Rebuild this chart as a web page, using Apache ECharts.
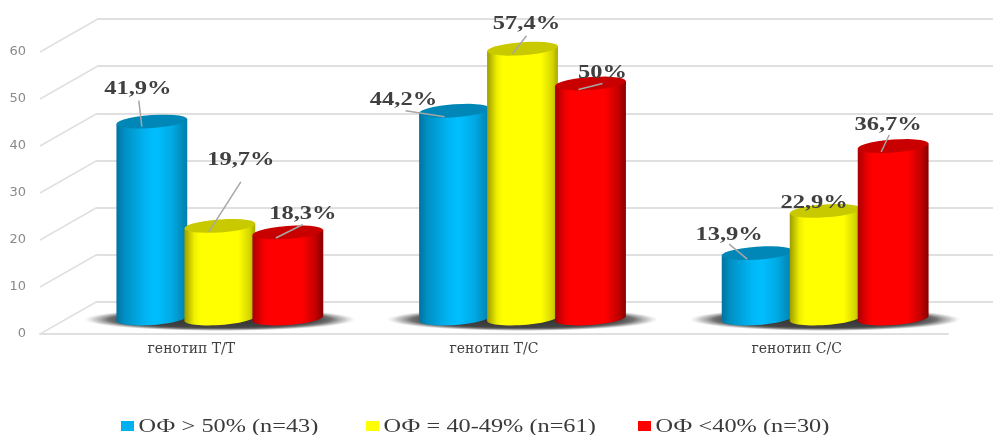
<!DOCTYPE html>
<html>
<head>
<meta charset="utf-8">
<style>html,body{margin:0;padding:0;background:#fff}#chart{width:993px;height:435px}</style>
<script src="https://cdn.jsdelivr.net/npm/echarts@6/dist/echarts.min.js"></script>
</head>
<body>
<div id="chart"></div>
<script>
// Genotype distribution by ejection fraction group, drawn as 3D-looking cylinders.
const categories = ['генотип Т/Т', 'генотип Т/С', 'генотип С/С'];
const groupNames = ['ОФ > 50% (n=43)', 'ОФ = 40-49% (n=61)', 'ОФ <40% (n=30)'];
const efAbove50 = [41.9, 44.2, 13.9];
const ef40to49 = [19.7, 57.4, 22.9];
const efBelow40 = [18.3, 50, 36.7];
const axisTicks = [0, 10, 20, 30, 40, 50, 60];

// Appearance of each group: shaded side stops, darker cap, legend swatch.
const looks = [
  {
    side: [[0, '#00749f'], [0.12, '#0090c4'], [0.42, '#00b6f4'], [0.56, '#00bfff'], [0.78, '#00aae4'], [1, '#007eaa']],
    cap: '#0087b8', swatch: '#00b0f0'
  },
  {
    side: [[0, '#9c9c00'], [0.14, '#f0f000'], [0.22, '#ffff00'], [0.76, '#ffff00'], [0.92, '#d6d600'], [1, '#a8a800']],
    cap: '#c9c900', swatch: '#ffff00'
  },
  {
    side: [[0, '#a80000'], [0.14, '#ee0000'], [0.22, '#ff0000'], [0.7, '#ff0000'], [0.9, '#c00000'], [1, '#860000']],
    cap: '#c80000', swatch: '#ff0000'
  }
];
const groups = [efAbove50, ef40to49, efBelow40];

// Perspective of the floor: the wall sits this far behind the front plane.
const WALL_DX = 57, WALL_DY = -32.5;
// Cylinders stand halfway between front plane and wall.
const MID_DX = 28.5, MID_DY = -15.5;
const BAR_STEP = 68, BAR_RX = 35.5, BAR_RY = 6.5, TILT = 0.07;

// Label placement around each cap: text offset, then leader line from/to.
const calloutLayout = [
  [[-14, -32, -13, -21, -10, 5], [21, -66, 21, -44, -11, 6], [15, -18, 15, -8, -12, 5.5]],
  [[-51, -10, -49, 0, -10, 6], [4, -24, 4, -13, -10, 5], [12, -10, 12, 0, -12, 6]],
  [[-28, -18, -28, -9, -10, 6], [-11, -8], [-5, -21, -4, -11, -12, 6]]
];

function arc(cx, cy, from, to) {
  const pts = [];
  const n = 28;
  for (let i = 0; i <= n; i++) {
    const t = from + (to - from) * i / n;
    pts.push([
      cx + BAR_RX * Math.cos(t) * Math.cos(TILT) + BAR_RY * Math.sin(t) * Math.sin(TILT),
      cy - BAR_RX * Math.cos(t) * Math.sin(TILT) + BAR_RY * Math.sin(t) * Math.cos(TILT)
    ]);
  }
  return pts;
}

function cylinderSeries(name, values, index) {
  const look = looks[index];
  return {
    name, type: 'custom', xAxisIndex: 0, yAxisIndex: 0, z: 3 + index, clip: false,
    data: values.map((v, i) => [i, v]),
    renderItem(params, api) {
      const base = api.coord([api.value(0), 0]);
      const top = api.coord([api.value(0), api.value(1)]);
      const cx = base[0] + MID_DX + (index - 1) * BAR_STEP;
      const baseY = base[1] + MID_DY;
      const topY = top[1] + MID_DY;
      const side = arc(cx, baseY, 0, Math.PI).concat(arc(cx, topY, Math.PI, Math.PI), arc(cx, topY, 0, 0));
      return {
        type: 'group',
        children: [
          {
            type: 'polygon', shape: { points: side },
            style: {
              fill: new echarts.graphic.LinearGradient(0, 0, 1, 0,
                look.side.map(s => ({ offset: s[0], color: s[1] })))
            }
          },
          { type: 'polygon', shape: { points: arc(cx, topY, 0, Math.PI * 2) }, style: { fill: look.cap } }
        ]
      };
    }
  };
}

const wallEdges = {
  type: 'custom', xAxisIndex: 0, yAxisIndex: 0, z: 1, clip: false, silent: true,
  data: axisTicks.map(t => [0, t]),
  renderItem(params, api) {
    const p = api.coord([0, api.value(1)]);
    const x = params.coordSys.x;
    return {
      type: 'line',
      shape: { x1: x, y1: p[1], x2: x + WALL_DX, y2: p[1] + WALL_DY },
      style: { stroke: '#e0e0e0', lineWidth: 1.5 }
    };
  }
};

const floorShadows = {
  type: 'custom', xAxisIndex: 0, yAxisIndex: 0, z: 2, clip: false, silent: true,
  data: categories.map((c, i) => [i, 0]),
  renderItem(params, api) {
    const base = api.coord([api.value(0), 0]);
    return {
      type: 'circle',
      x: base[0] + MID_DX, y: base[1] + MID_DY + 1,
      scaleY: 0.085,
      shape: { cx: 0, cy: 0, r: 136 },
      style: {
        fill: new echarts.graphic.RadialGradient(0.5, 0.5, 0.5, [
          { offset: 0, color: '#303030' },
          { offset: 0.7, color: '#444444' },
          { offset: 0.82, color: 'rgba(90,90,90,0.85)' },
          { offset: 0.92, color: 'rgba(140,140,140,0.45)' },
          { offset: 1, color: 'rgba(200,200,200,0)' }
        ])
      }
    };
  }
};

const calloutRows = [];
groups.forEach((values, g) => values.forEach((v, c) => calloutRows.push([c, v, g])));

const callouts = {
  type: 'custom', xAxisIndex: 0, yAxisIndex: 0, z: 10, clip: false, silent: true,
  data: calloutRows,
  renderItem(params, api) {
    const c = api.value(0), v = api.value(1), g = api.value(2);
    const p = api.coord([c, v]);
    const cx = p[0] + MID_DX + (g - 1) * BAR_STEP;
    const y = p[1] + MID_DY;
    const L = calloutLayout[c][g];
    const children = [];
    if (L.length > 2) {
      children.push({
        type: 'line',
        shape: { x1: cx + L[2], y1: y + L[3], x2: cx + L[4], y2: y + L[5] },
        style: { stroke: '#a6a6a6', lineWidth: 1.5 }
      });
    }
    children.push({
      type: 'text', x: cx + L[0], y: y + L[1], scaleX: 1.36,
      style: {
        text: String(v).replace('.', ',') + '%',
        font: 'bold 18px "Liberation Serif"',
        fill: '#404040', textAlign: 'center', textVerticalAlign: 'middle'
      }
    });
    return { type: 'group', children };
  }
};

const legendSlots = [121, 366, 638];
const legendGraphics = [];
groupNames.forEach((name, i) => {
  legendGraphics.push({
    type: 'rect', x: legendSlots[i], y: 421, shape: { width: 13, height: 10 },
    style: { fill: looks[i].swatch }
  });
  legendGraphics.push({
    type: 'text', x: legendSlots[i] + 17.5, y: 427, scaleX: 1.35,
    style: {
      text: name, font: '18px "Liberation Serif"', fill: '#3a3a3a',
      textVerticalAlign: 'middle'
    }
  });
});

const chart = echarts.init(document.getElementById('chart'), null, { renderer: 'canvas' });
chart.setOption({
  animation: false,
  backgroundColor: '#ffffff',
  grid: [
    { left: 40, right: 45, top: 52, bottom: 101 },
    { left: 97, right: 0, top: 19, bottom: 133 }
  ],
  xAxis: [
    {
      type: 'category', gridIndex: 0, data: categories,
      axisLine: { show: true, lineStyle: { color: '#e0e0e0', width: 2 } },
      axisTick: { show: false },
      axisLabel: { margin: 8, fontFamily: 'DejaVu Serif', fontSize: 14, color: '#404040' }
    },
    { type: 'value', gridIndex: 1, min: 0, max: 1, show: false }
  ],
  yAxis: [
    {
      type: 'value', gridIndex: 0, min: 0, max: 60, interval: 10,
      axisLine: { show: false }, axisTick: { show: false }, splitLine: { show: false },
      axisLabel: { margin: 14, fontFamily: 'DejaVu Sans', fontSize: 13, color: '#8a8a8a' }
    },
    {
      type: 'value', gridIndex: 1, min: 0, max: 60, interval: 10,
      axisLine: { show: false }, axisTick: { show: false }, axisLabel: { show: false },
      splitLine: { show: true, lineStyle: { color: '#e0e0e0', width: 2 } }
    }
  ],
  graphic: legendGraphics,
  series: [
    wallEdges,
    floorShadows,
    cylinderSeries(groupNames[0], efAbove50, 0),
    cylinderSeries(groupNames[1], ef40to49, 1),
    cylinderSeries(groupNames[2], efBelow40, 2),
    callouts
  ]
});
</script>
</body>
</html>
